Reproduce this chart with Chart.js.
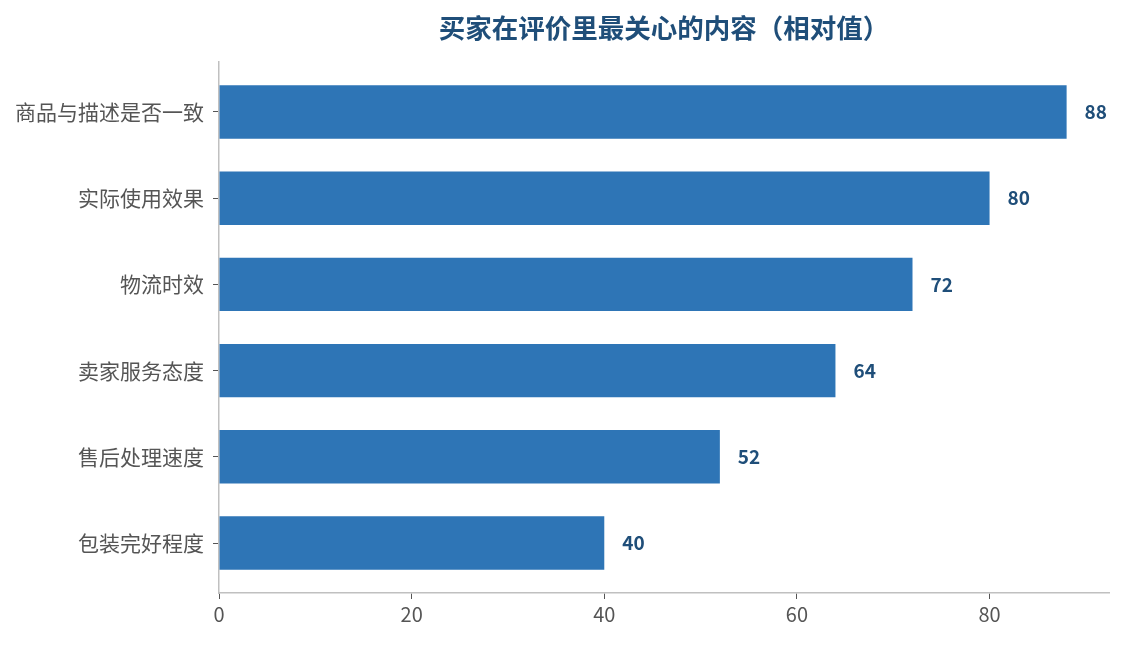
<!DOCTYPE html>
<html>
<head>
<meta charset="utf-8">
<script src="https://cdn.jsdelivr.net/npm/chart.js@4/dist/chart.umd.min.js"></script>
<style>
  html, body { margin: 0; padding: 0; background: #fff; }
  #wrap { width: 1124px; height: 645px; }
</style>
</head>
<body>
<div id="wrap"><canvas id="barChart"></canvas></div>
<script>
const categories = ['商品与描述是否一致', '实际使用效果', '物流时效', '卖家服务态度', '售后处理速度', '包装完好程度'];
const values = [88, 80, 72, 64, 52, 40];
const xTicks = [0, 20, 40, 60, 80];
const chartTitle = '买家在评价里最关心的内容（相对值）';

const FONT = '"Noto Sans CJK SC", "Noto Sans", sans-serif';

// 标题 + 数值标签
const labelPlugin = {
    id: 'labelPlugin',
    afterDatasetsDraw(chart) {
        const ctx = chart.ctx;
        const meta = chart.getDatasetMeta(0);
        ctx.save();
        ctx.fillStyle = '#1F4E79';
        ctx.font = 'bold 19px ' + FONT;
        ctx.textAlign = 'left';
        ctx.textBaseline = 'middle';
        meta.data.forEach(function(bar, i) {
            ctx.fillText(values[i], bar.x + 18, bar.y);
        });
        const area = chart.chartArea;
        ctx.font = 'bold 26.5px ' + FONT;
        ctx.textAlign = 'center';
        ctx.fillText(chartTitle, (area.left + area.right) / 2, 28);
        ctx.restore();
    }
};

const ctx = document.getElementById('barChart').getContext('2d');
new Chart(ctx, {
    type: 'bar',
    data: {
        datasets: [{
            data: values.map(function(v, i) { return { x: v, y: i }; }),
            backgroundColor: '#2E75B6',
            borderWidth: 0,
            barPercentage: 0.62,
            categoryPercentage: 1
        }]
    },
    options: {
        indexAxis: 'y',
        responsive: true,
        maintainAspectRatio: false,
        animation: false,
        layout: {
            padding: { left: 0, right: 15, top: 62, bottom: 16 }
        },
        scales: {
            x: {
                type: 'linear',
                min: 0,
                max: 92.4,
                afterBuildTicks: function(axis) {
                    axis.ticks = xTicks.map(function(v) { return { value: v }; });
                },
                grid: {
                    display: true,
                    drawOnChartArea: false,
                    drawTicks: true,
                    tickLength: 6,
                    color: '#555555'
                },
                border: { color: '#c0c0c0', width: 1.5 },
                ticks: {
                    color: '#555555',
                    font: { family: FONT, size: 20 },
                    padding: 3
                }
            },
            y: {
                type: 'linear',
                reverse: true,
                offset: false,
                min: -0.58,
                max: 5.58,
                afterBuildTicks: function(axis) {
                    axis.ticks = categories.map(function(c, i) { return { value: i }; });
                },
                afterFit: function(axis) {
                    axis.width = 219;
                },
                grid: {
                    display: true,
                    offset: false,
                    drawOnChartArea: false,
                    drawTicks: true,
                    tickLength: 6,
                    color: '#555555'
                },
                border: { color: '#c0c0c0', width: 1.5 },
                ticks: {
                    color: '#555555',
                    font: { family: FONT, size: 21 },
                    padding: 9,
                    callback: function(v) { return categories[v] || ''; }
                }
            }
        },
        plugins: {
            legend: { display: false },
            title: { display: false },
            tooltip: { enabled: false }
        }
    },
    plugins: [labelPlugin]
});
</script>
</body>
</html>
